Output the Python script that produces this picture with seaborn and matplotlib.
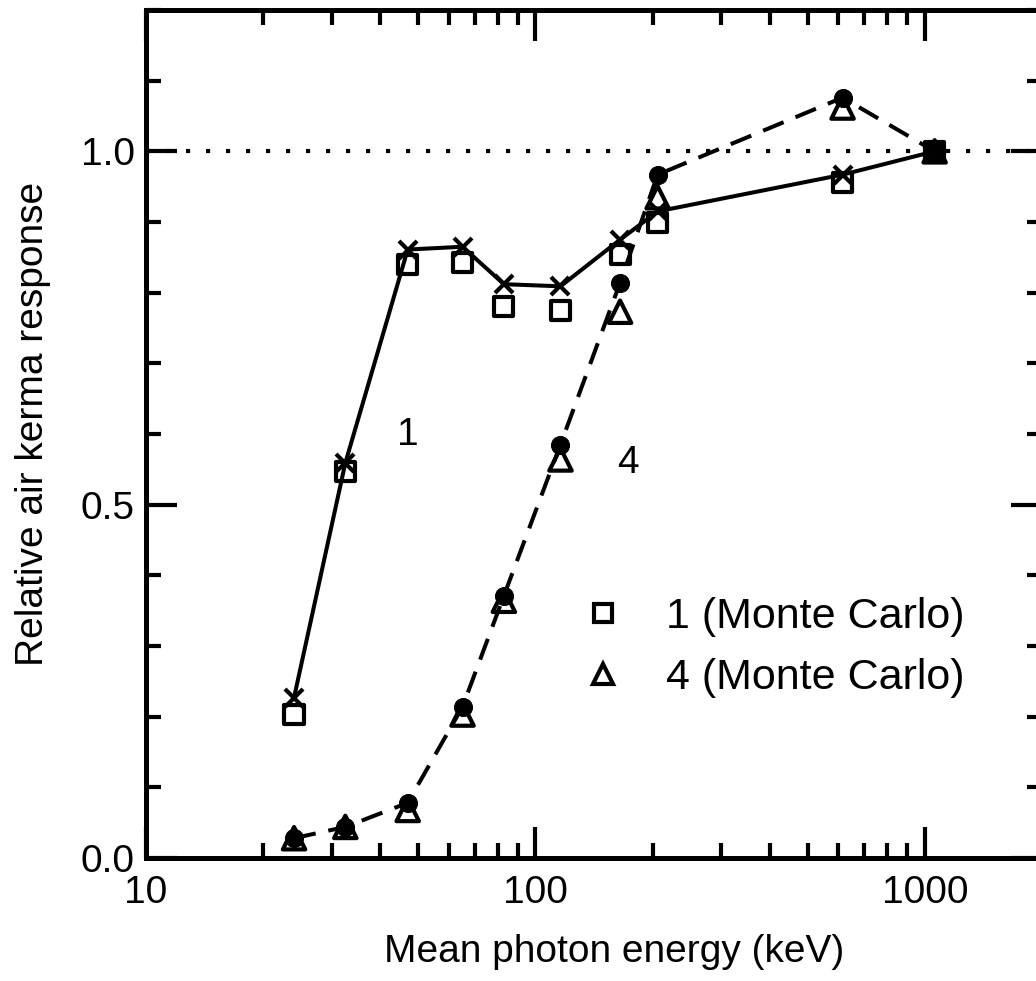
import numpy as np
import pandas as pd
import seaborn as sns
import matplotlib.pyplot as plt
from matplotlib.lines import Line2D
from matplotlib.ticker import FixedLocator, FixedFormatter, MultipleLocator, NullFormatter

# mean photon energy (keV)
energia = [24, 32.5, 47, 65, 83, 116, 165, 206, 615, 1060]

# detector 1: measured (x, solid) and Monte Carlo (squares)
resp1_med = [0.227, 0.559, 0.861, 0.865, 0.812, 0.809, 0.875, 0.915, 0.967, 1.0]
resp1_mc = [0.203, 0.547, 0.840, 0.843, 0.780, 0.775, 0.854, 0.899, 0.956, 1.0]

# detector 4: measured (dots, dashed) and Monte Carlo (triangles)
resp4_med = [0.028, 0.044, 0.078, 0.214, 0.371, 0.585, 0.814, 0.967, 1.076, 1.0]
resp4_mc = [0.028, 0.044, 0.068, 0.203, 0.364, 0.564, 0.773, 0.935, 1.062, 1.0]

rotulos_leg = ["1 (Monte Carlo)", "4 (Monte Carlo)"]
x_ticks = [10, 100, 1000]
x_rotulos = ["10", "100", "1000"]
y_ticks = [0.0, 0.5, 1.0]
y_rotulos = ["0.0", "0.5", "1.0"]

sns.set_style("ticks")
plt.rcParams["font.family"] = ["Liberation Sans", "DejaVu Sans"]
plt.rcParams["text.color"] = "k"
plt.rcParams["axes.labelcolor"] = "k"
plt.rcParams["xtick.color"] = "k"
plt.rcParams["ytick.color"] = "k"

fig = plt.figure(figsize=(10.36, 9.81), dpi=100)
ax = fig.add_axes([146 / 1036, 123 / 981, 896 / 1036, 848 / 981])

df = pd.DataFrame({
    "energia": energia,
    "r1": resp1_med,
    "r1mc": resp1_mc,
    "r4": resp4_med,
    "r4mc": resp4_mc,
})

ax.axhline(1.0, color="k", lw=3, ls=(0, (1, 3.8)), zorder=1)

sns.lineplot(data=df, x="energia", y="r1", color="k", lw=2.9, marker="x",
             markersize=13, markeredgewidth=3, markeredgecolor="k", ax=ax, zorder=3)
sns.lineplot(data=df, x="energia", y="r4", color="k", lw=2.9, ls=(0, (5.5, 3.2)),
             marker="o", markersize=13, markeredgecolor="k", markerfacecolor="k",
             ax=ax, zorder=3)

sns.scatterplot(data=df, x="energia", y="r1mc", marker="s", s=190, facecolor="none",
                edgecolor="k", linewidth=3, ax=ax, zorder=4)
sns.scatterplot(data=df, x="energia", y="r4mc", marker="^", s=260, facecolor="none",
                edgecolor="k", linewidth=3, ax=ax, zorder=4)

ax.set_xscale("log")
ax.set_xlim(10, 2000)
ax.set_ylim(0, 1.2)

ax.xaxis.set_major_locator(FixedLocator(x_ticks))
ax.xaxis.set_major_formatter(FixedFormatter(x_rotulos))
menores = [m * d for d in (10, 100, 1000) for m in range(2, 10) if m * d <= 2000]
ax.xaxis.set_minor_locator(FixedLocator(menores))
ax.xaxis.set_minor_formatter(NullFormatter())
ax.yaxis.set_major_locator(FixedLocator(y_ticks))
ax.yaxis.set_major_formatter(FixedFormatter(y_rotulos))
ax.yaxis.set_minor_locator(MultipleLocator(0.1))

for lado in ["top", "bottom", "left", "right"]:
    ax.spines[lado].set_linewidth(3.6)
    ax.spines[lado].set_color("k")

ax.tick_params(which="both", direction="in", top=True, right=True, width=3, color="k")
ax.tick_params(which="major", length=22, labelsize=28)
ax.tick_params(axis="x", which="major", pad=12)
ax.tick_params(axis="y", which="major", pad=8)
ax.tick_params(which="minor", length=10.5)

ax.set_xlabel("Mean photon energy (keV)", fontsize=28)
ax.set_ylabel("Relative air kerma response", fontsize=28)
ax.xaxis.set_label_coords(0.522, -0.09)
ax.yaxis.set_label_coords(-0.106, 0.512)

ax.text(47.1, 0.599, "1", fontsize=28, ha="center", va="center")
ax.text(172.8, 0.559, "4", fontsize=28, ha="center", va="center")

handles = [
    Line2D([], [], ls="none", marker="s", markersize=13, markerfacecolor="none",
           markeredgecolor="k", markeredgewidth=3),
    Line2D([], [], ls="none", marker="^", markersize=15, markerfacecolor="none",
           markeredgecolor="k", markeredgewidth=3),
]
ax.legend(handles, rotulos_leg, loc="center left", bbox_to_anchor=(0.486, 0.248),
          frameon=False, fontsize=31, handlelength=1.0, handletextpad=0.97,
          borderpad=0, borderaxespad=0, labelspacing=0.5)

fig.savefig("out.png", dpi=100)
